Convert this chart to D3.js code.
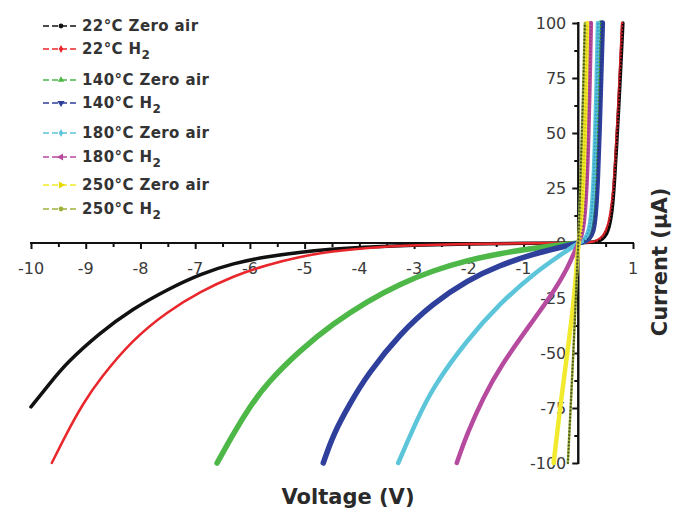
<!DOCTYPE html>
<html>
<head>
<meta charset="utf-8">
<script src="https://cdn.jsdelivr.net/npm/d3@7"></script>
<style>
  html, body { margin: 0; padding: 0; background: #fff; }
  svg { display: block; }
</style>
</head>
<body>
<svg id="chart" width="686" height="511"></svg>
<script>
// ---------- data (Voltage V, Current µA) ----------
const seriesNames = ["22°C|Zero air", "22°C|H2", "140°C|Zero air", "140°C|H2",
                     "180°C|Zero air", "180°C|H2", "250°C|Zero air", "250°C|H2"];

const black22Air = [[-10,-74.5],[-9.65,-63.6],[-9.35,-54.5],[-8.75,-41],[-8.15,-30],[-7.5,-21],[-6.9,-14],[-6.3,-9.2],[-5.7,-6.2],[-5.1,-4.2],[-4.5,-2.8],[-4,-1.9],[-3,-0.9],[-2,-0.4],[-1,-0.15],[0,0],[0.3,0.3],[0.45,1.5],[0.55,5],[0.62,14],[0.66,27],[0.7,44],[0.74,62],[0.78,82],[0.815,100]];
const red22H2 = [[-9.62,-100],[-9.35,-86.5],[-9.05,-73],[-8.75,-62],[-8.15,-44],[-7.5,-31],[-6.9,-22],[-6.3,-15],[-5.7,-10],[-5.1,-6.2],[-4.5,-3.8],[-3.8,-2],[-3,-1],[-2,-0.4],[-1,-0.1],[0,0],[0.2,0.2],[0.35,1],[0.46,3],[0.55,8],[0.6,15],[0.65,26],[0.68,40],[0.72,56],[0.76,78],[0.8,100]];
const green140Air = [[-6.6,-100],[-6.3,-86.5],[-6.0,-74.4],[-5.7,-64],[-5.08,-48.6],[-4.47,-36.5],[-3.86,-26.5],[-3.25,-18.5],[-2.65,-12.5],[-2.03,-7.9],[-1.43,-4.7],[-0.82,-2.4],[-0.3,-0.8],[0,0],[0.1,0.5],[0.2,2],[0.26,5],[0.3,12],[0.33,28],[0.36,50],[0.38,75],[0.41,100]];
const blue140H2 = [[-4.66,-100],[-4.47,-86.5],[-4.17,-72.9],[-3.86,-60],[-3.25,-41],[-2.65,-27.4],[-2.03,-17],[-1.43,-10],[-0.82,-5],[-0.3,-1.8],[0,0],[0.1,0.5],[0.2,2],[0.27,5],[0.31,12],[0.35,28],[0.38,50],[0.41,75],[0.44,100]];
const cyan180Air = [[-3.29,-100],[-2.95,-80.5],[-2.65,-65.3],[-2.03,-44],[-1.43,-27.4],[-0.82,-14],[-0.3,-5],[0,0],[0.1,1],[0.18,4],[0.23,10],[0.27,22],[0.3,40],[0.33,65],[0.36,100]];
const magenta180H2 = [[-2.22,-100],[-2.03,-86.5],[-1.73,-70],[-1.43,-56.2],[-0.82,-35],[-0.51,-24.4],[-0.2,-12],[0,0],[0.06,3],[0.11,10],[0.15,25],[0.18,45],[0.2,65],[0.23,100]];
const yellow250Air = [[-0.45,-100],[-0.33,-74.4],[-0.21,-51.7],[-0.09,-29],[-0.02,-8],[0,0],[0.04,5],[0.08,20],[0.11,40],[0.13,60],[0.16,100]];
const olive250H2 = [[-0.19,-100],[-0.14,-75],[-0.09,-50],[-0.045,-25],[0,0],[0.03,20],[0.06,45],[0.09,70],[0.12,100]];

const xTickValues = [-10,-9,-8,-7,-6,-5,-4,-3,-2,-1,1];
const yTickValues = [-100,-75,-50,-25,0,25,50,75,100];

// ---------- styling ----------
const series = [
  {data: black22Air,   color: "#111111", dot: "#000000", width: 3.5, sym: d3.symbolCircle},
  {data: red22H2,      color: "#e8262b", dot: "#a01c22", width: 2.5, sym: d3.symbolDiamond},
  {data: green140Air,  color: "#4db748", dot: "#3a9a35", width: 5.5, sym: d3.symbolTriangle},
  {data: blue140H2,    color: "#2e3f9c", dot: "#24338a", width: 5.5, sym: "down"},
  {data: cyan180Air,   color: "#5cc5d9", dot: "#3a9fcc", width: 4.5, sym: d3.symbolDiamond},
  {data: magenta180H2, color: "#b64a9e", dot: "#963c86", width: 4.5, sym: "left"},
  {data: yellow250Air, color: "#f2ea2c", dot: "#d8c810", width: 4.5, sym: "right"},
  {data: olive250H2,   color: "#9fb23c", dot: "#4d5220", width: 2.5, sym: d3.symbolCircle}
];

const svg = d3.select("#chart");
const x = d3.scaleLinear().domain([-10, 1]).range([31, 633]);
const y = d3.scaleLinear().domain([-100, 100]).range([463, 23]);
const x0 = x(0), y0 = y(0);

// ---------- axes ----------
const tickFont = "DejaVu Sans, sans-serif";
const gx = svg.append("g").attr("transform", `translate(0,${y0})`);
gx.call(d3.axisBottom(x).tickValues(d3.range(-10, 1.01, 0.5)).tickSize(4).tickFormat(""))
  .call(g => g.select(".domain").remove());
gx.selectAll(".tick line").attr("stroke", "#111").attr("stroke-width", 2)
  .attr("y2", d => Number.isInteger(d) ? 6 : 4);
gx.append("line").attr("x1", x(-10) - 1).attr("x2", x(1) + 1).attr("stroke", "#111").attr("stroke-width", 2.2);

svg.append("g").selectAll("text").data(xTickValues).join("text")
  .attr("x", d => x(d)).attr("y", y0 + 31)
  .attr("text-anchor", "middle")
  .style("font-family", tickFont).style("font-size", "16px").attr("fill", "#3a3a3a")
  .text(d => d);

const gy = svg.append("g").attr("transform", `translate(${x0},0)`);
gy.call(d3.axisLeft(y).tickValues(d3.range(-100, 100.1, 12.5)).tickSize(4).tickFormat(""))
  .call(g => g.select(".domain").remove());
gy.selectAll(".tick line").attr("stroke", "#111").attr("stroke-width", 2)
  .attr("x2", d => (d % 25 === 0) ? -6 : -4);
gy.append("line").attr("y1", y(100) - 1).attr("y2", y(-100) + 1).attr("stroke", "#111").attr("stroke-width", 2.4);

svg.append("g").selectAll("text").data(yTickValues).join("text")
  .attr("x", x0 - 12).attr("y", d => y(d) + 6)
  .attr("text-anchor", "end")
  .style("font-family", tickFont).style("font-size", "16px").attr("fill", "#3a3a3a")
  .text(d => d);

// ---------- curves ----------
const line = d3.line().x(d => x(d[0])).y(d => y(d[1])).curve(d3.curveBasis);
const gc = svg.append("g");
series.forEach(s => {
  gc.append("path").datum(s.data).attr("d", line)
    .attr("fill", "none").attr("stroke", s.color).attr("stroke-width", s.width)
    .attr("stroke-linejoin", "round").attr("stroke-linecap", "round");
});
// dotted markers along forward (positive current) branches and the 250 H2 curve
series.forEach((s, i) => {
  const part = (i === 7) ? s.data : s.data.filter(d => d[1] >= 0);
  const tmp = gc.append("path").datum(part).attr("d", line).attr("fill", "none").attr("stroke", "none");
  const node = tmp.node();
  const L = node.getTotalLength();
  const pts = [];
  for (let l = 0; l <= L; l += 3.5) pts.push(node.getPointAtLength(l));
  gc.append("g").selectAll("circle").data(pts.filter(p => p.y < y0 - 2 || i === 7)).join("circle")
    .attr("cx", p => p.x).attr("cy", p => p.y).attr("r", 1.1).attr("fill", s.dot);
  tmp.remove();
});

// ---------- legend ----------
const legendY = [26, 49, 80, 103, 133, 157, 185, 209];
const lg = svg.append("g");
function symPath(t) {
  if (t === "down") return {p: d3.symbol(d3.symbolTriangle, 22)(), r: 180};
  if (t === "left") return {p: d3.symbol(d3.symbolTriangle, 22)(), r: -90};
  if (t === "right") return {p: d3.symbol(d3.symbolTriangle, 22)(), r: 90};
  return {p: d3.symbol(t, 18)(), r: 0};
}
series.forEach((s, i) => {
  const yy = legendY[i];
  lg.append("line").attr("x1", 43).attr("x2", 78).attr("y1", yy).attr("y2", yy)
    .attr("stroke", s.color).attr("stroke-width", 1.6).attr("stroke-dasharray", "6,3");
  const sp = symPath(s.sym);
  lg.append("path").attr("d", sp.p).attr("transform", `translate(61,${yy}) rotate(${sp.r})`)
    .attr("fill", s.color === "#f2ea2c" ? "#e6d800" : s.color);
  const [temp, gas] = seriesNames[i].split("|");
  const t = lg.append("text").attr("x", 82).attr("y", yy + 5)
    .style("font-family", "DejaVu Sans, sans-serif").style("font-weight", "bold")
    .style("font-size", "15px").style("letter-spacing", "0.4px").attr("fill", "#333");
  if (gas === "H2") {
    t.append("tspan").text(temp + "  H");
    t.append("tspan").attr("dy", 5).style("font-size", "12px").text("2");
  } else {
    t.append("tspan").text(temp + "  " + gas);
  }
});

// ---------- axis titles ----------
svg.append("text").attr("x", 348).attr("y", 504).attr("text-anchor", "middle")
  .style("font-family", "DejaVu Sans, sans-serif").style("font-weight", "bold")
  .style("font-size", "21px").attr("fill", "#2a2a2a").text("Voltage (V)");
svg.append("text").attr("transform", "translate(667,262) rotate(-90)").attr("text-anchor", "middle")
  .style("font-family", "DejaVu Sans, sans-serif").style("font-weight", "bold")
  .style("font-size", "21px").attr("fill", "#2a2a2a").text("Current (μA)");
</script>
</body>
</html>
